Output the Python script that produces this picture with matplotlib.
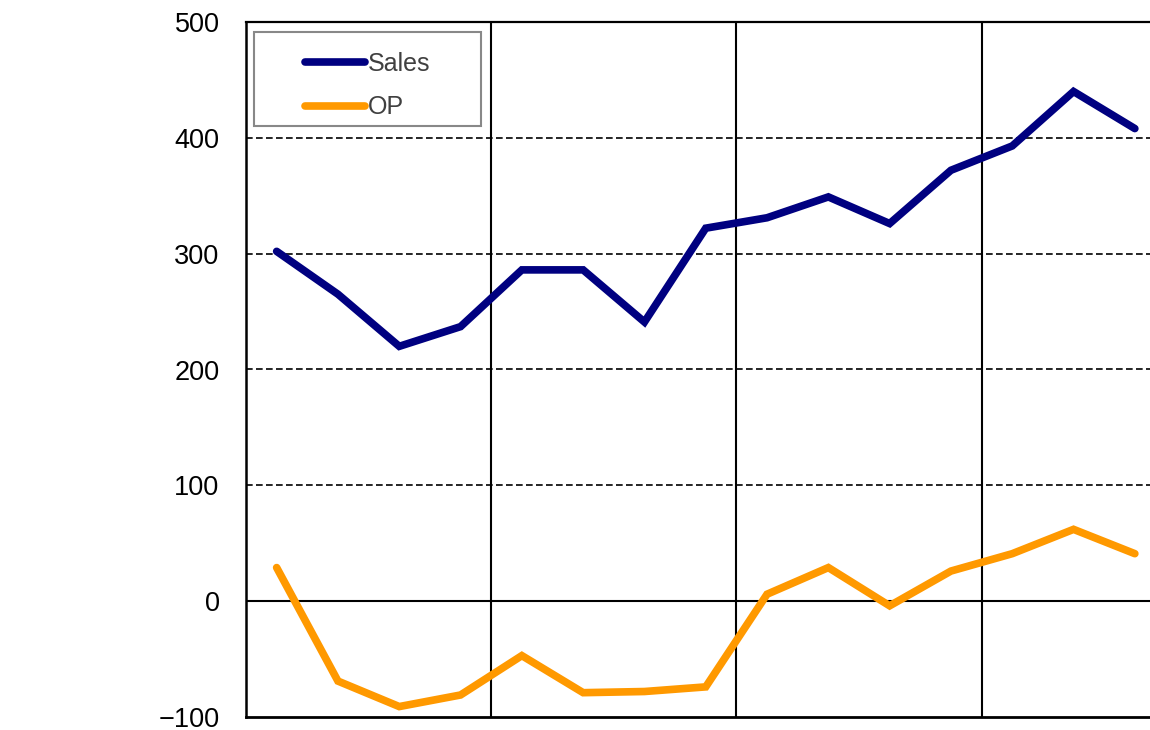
import numpy as np
import matplotlib.pyplot as plt
from matplotlib.patches import Rectangle

plt.rcParams['font.family'] = ['Liberation Sans', 'DejaVu Sans']

# values (15 periods)
sales = [302, 265, 220, 237, 286, 286, 241, 322, 331, 349, 326, 372, 393, 440, 408]
op = [29, -69, -91, -81, -47, -79, -78, -74, 6, 29, -4, 26, 41, 62, 41]
yticks = [-100, 0, 100, 200, 300, 400, 500]
vlines = [4, 8, 12]

x = np.arange(len(sales)) + 0.5

W, H = 1150, 730
fig = plt.figure(figsize=(W / 100, H / 100), dpi=100)
# plot area runs off the right edge of the image, like the reference
ax_w = 15 * 61.3
ax = fig.add_axes([246 / W, 1 - 717 / H, ax_w / W, (717 - 22) / H])
ax_h = 717 - 22

ax.plot(x, sales, color='#000080', lw=5.5, solid_capstyle='round', solid_joinstyle='miter', label='Sales', zorder=4)
ax.plot(x, op, color='#FF9900', lw=5.5, solid_capstyle='round', solid_joinstyle='miter', label='OP', zorder=4)

ax.set_xlim(0, len(sales))
ax.set_ylim(-100, 500)
ax.set_yticks(yticks)
ax.set_yticklabels(['\u2212100' if t < 0 else str(t) for t in yticks])
ax.set_xticks([])
ax.tick_params(axis='y', length=0, pad=19, labelsize=19.5)

for t in yticks[2:-1]:
    ax.axhline(t, color='black', lw=1.2, ls=(0, (4, 2)), zorder=2)
ax.axhline(500, color='black', lw=1.6, zorder=2, clip_on=False)
ax.axhline(0, color='black', lw=1.5, zorder=2)
ax.axhline(-100, color='black', lw=2, zorder=2, clip_on=False)
for v in vlines:
    ax.axvline(v, color='black', lw=1.5, zorder=2)

for s in ['top', 'right', 'bottom']:
    ax.spines[s].set_visible(False)
ax.spines['left'].set_linewidth(1.8)

# legend frame drawn separately so its padding matches the reference
ax.add_patch(Rectangle(((254 - 246) / ax_w, (717 - 126) / ax_h), (481 - 254) / ax_w, (126 - 32) / ax_h,
                       transform=ax.transAxes, facecolor='white', edgecolor='#888888', lw=1.5, zorder=5))
leg = ax.legend(loc='upper left', bbox_to_anchor=((305 - 246) / ax_w, (717 - 52) / ax_h), fontsize=18,
                frameon=False, borderpad=0, borderaxespad=0,
                handlelength=2.4, handletextpad=0.12, labelspacing=0.78)
leg.set_zorder(6)
for txt in leg.get_texts():
    txt.set_color('#404040')

fig.savefig('out.png', dpi=100)
